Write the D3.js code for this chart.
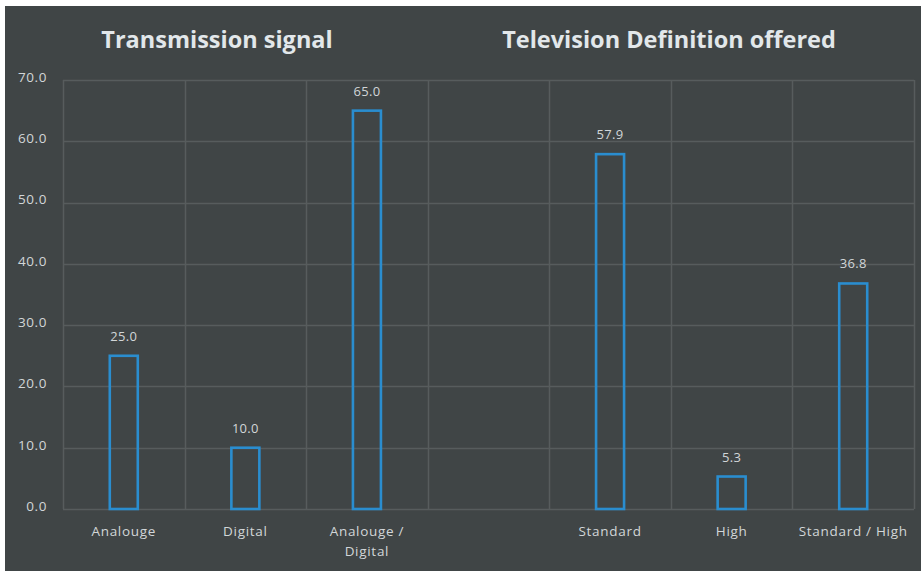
<!DOCTYPE html>
<html>
<head>
<meta charset="utf-8">
<script src="https://cdn.jsdelivr.net/npm/d3@7"></script>
<style>
  html, body { margin: 0; padding: 0; background: #ffffff; }
  svg { display: block; }
</style>
</head>
<body>
<svg id="chart" width="921" height="571"></svg>
<script>
// Survey shares (%) by transmission signal and by television definition offered
const categories = ["Analouge", "Digital", "Analouge /\nDigital", "", "Standard", "High", "Standard / High"];
const values = [25.0, 10.0, 65.0, null, 57.9, 5.3, 36.8];
const yTicks = [0, 10, 20, 30, 40, 50, 60, 70];
const groupTitles = ["Transmission signal", "Television Definition offered"];

const W = 921, H = 571;
const margin = { top: 80, right: 7, bottom: 62, left: 63 };
const svg = d3.select("#chart");

const bg = "#404546", grid = "#575c5d", text = "#d2d6d8", bar = "#2a8dcf";
const font = "'Open Sans', sans-serif";

// dark panel
svg.append("rect").attr("x", 5).attr("y", 6).attr("width", W - 5).attr("height", H - 6).attr("fill", bg);

const x = d3.scaleBand().domain(d3.range(categories.length))
  .range([margin.left, W - margin.right]).paddingInner(0).paddingOuter(0);
const y = d3.scaleLinear().domain([0, 70]).range([H - margin.bottom, margin.top]);

// horizontal gridlines
svg.append("g").selectAll("line").data(yTicks).join("line")
  .attr("x1", margin.left).attr("x2", W - margin.right)
  .attr("y1", d => Math.round(y(d)) + 0.5).attr("y2", d => Math.round(y(d)) + 0.5)
  .attr("stroke", grid).attr("stroke-width", 1.5);

// vertical gridlines at category boundaries
const bounds = d3.range(categories.length + 1).map(i => margin.left + i * x.step());
svg.append("g").selectAll("line").data(bounds).join("line")
  .attr("x1", d => Math.round(d) + 0.5).attr("x2", d => Math.round(d) + 0.5)
  .attr("y1", margin.top).attr("y2", H - margin.bottom)
  .attr("stroke", grid).attr("stroke-width", 1.5);

// y axis labels
const yAxis = d3.axisLeft(y).tickValues(yTicks).tickFormat(d3.format(".1f")).tickSize(0).tickPadding(16);
const gy = svg.append("g").attr("transform", `translate(${margin.left},0)`).call(yAxis);
gy.select(".domain").remove();
gy.selectAll("text").attr("fill", text).attr("font-family", font)
  .attr("font-size", 13.5).attr("letter-spacing", 0.6).attr("dy", "0.1em");

// x axis labels (multi-line where needed)
const gx = svg.append("g");
categories.forEach((c, i) => {
  if (!c) return;
  const t = gx.append("text")
    .attr("x", x(i) + x.bandwidth() / 2).attr("y", H - margin.bottom + 27)
    .attr("text-anchor", "middle").attr("fill", text)
    .attr("font-family", font).attr("font-size", 13.5).attr("letter-spacing", 0.7);
  c.split("\n").forEach((line, k) => {
    t.append("tspan").attr("x", x(i) + x.bandwidth() / 2).attr("dy", k === 0 ? 0 : 20).text(line);
  });
});

// outlined bars
const barW = 28;
const data = values.map((v, i) => ({ i, v })).filter(d => d.v !== null);
svg.append("g").selectAll("rect").data(data).join("rect")
  .attr("x", d => x(d.i) + x.bandwidth() / 2 - barW / 2)
  .attr("y", d => y(d.v))
  .attr("width", barW)
  .attr("height", d => y(0) - y(d.v))
  .attr("fill", "none").attr("stroke", bar).attr("stroke-width", 2.6);

// value labels
svg.append("g").selectAll("text").data(data).join("text")
  .attr("x", d => x(d.i) + x.bandwidth() / 2)
  .attr("y", d => y(d.v) - 15)
  .attr("text-anchor", "middle").attr("fill", text)
  .attr("font-family", font).attr("font-size", 13).attr("letter-spacing", 0.3)
  .text(d => d3.format(".1f")(d.v));

// group titles
const titleX = [217, 669];
svg.append("g").selectAll("text").data(groupTitles).join("text")
  .attr("x", (d, i) => titleX[i]).attr("y", 48)
  .attr("text-anchor", "middle").attr("fill", "#e2e7ea")
  .attr("font-family", font).attr("font-weight", "bold").attr("font-size", 23.5)
  .text(d => d);
</script>
</body>
</html>
